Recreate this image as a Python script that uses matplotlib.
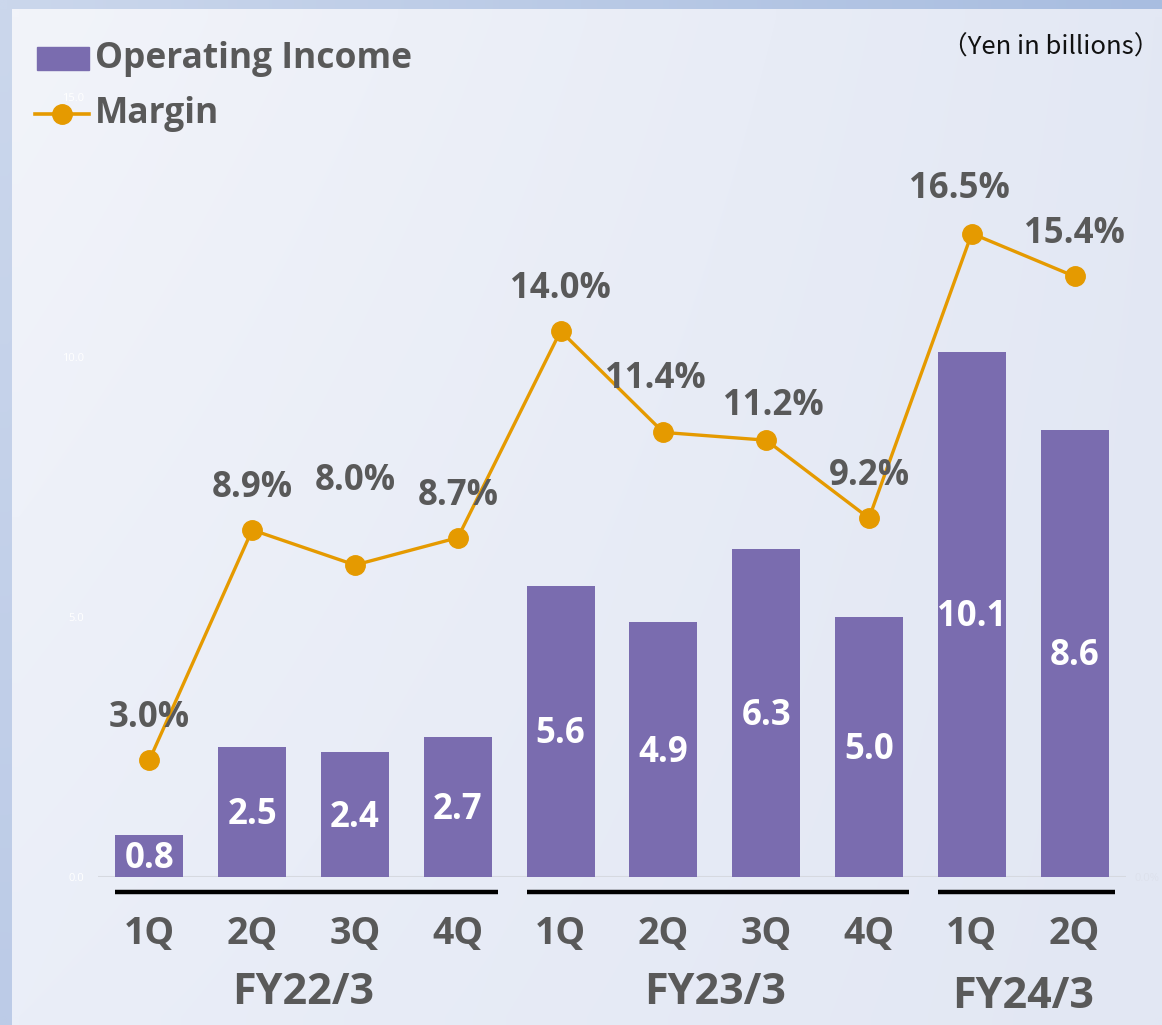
import numpy as np
import matplotlib
matplotlib.use("Agg")
import matplotlib.pyplot as plt
from matplotlib.patches import Rectangle
from matplotlib.lines import Line2D

# ---------------- data ----------------
quarters = ["1Q", "2Q", "3Q", "4Q", "1Q", "2Q", "3Q", "4Q", "1Q", "2Q"]
fiscal_years = ["FY22/3", "FY23/3", "FY24/3"]
fy_sizes = [4, 4, 2]
operating_income = [0.8, 2.5, 2.4, 2.7, 5.6, 4.9, 6.3, 5.0, 10.1, 8.6]
margin = [3.0, 8.9, 8.0, 8.7, 14.0, 11.4, 11.2, 9.2, 16.5, 15.4]
left_ticks = [0, 5, 10, 15]

# ---------------- style ----------------
W, H = 1162, 1025
DPI = 100
plt.rcParams['font.family'] = ['Open Sans', 'Noto Sans', 'DejaVu Sans']
BAR = '#7a6caf'
LINE = '#e59a00'
GREY = '#595959'

fig = plt.figure(figsize=(W / DPI, H / DPI), dpi=DPI)

# background gradient (frame + panel)
bg = fig.add_axes([0, 0, 1, 1])
bg.set_axis_off()
def corner_grad(tl, tr, bl, br, h, w):
    tl, tr, bl, br = [np.array(matplotlib.colors.to_rgb(c)) for c in (tl, tr, bl, br)]
    yy = np.linspace(0, 1, h)[:, None, None]
    xx = np.linspace(0, 1, w)[None, :, None]
    top = tl * (1 - xx) + tr * xx
    bot = bl * (1 - xx) + br * xx
    return top * (1 - yy) + bot * yy
frame = corner_grad('#cbd7ec', '#a8bde0', '#bccbe7', '#c0cfe9', 60, 80)
bg.imshow(frame, extent=[0, W, H, 0], aspect='auto', interpolation='bilinear')
panel = corner_grad('#f2f4fa', '#e3e8f4', '#eaeef8', '#e2e7f3', 60, 80)
bg.imshow(panel, extent=[12, W, H, 9], aspect='auto', interpolation='bilinear')
bg.set_xlim(0, W)
bg.set_ylim(H, 0)

# main axes
ax = fig.add_axes([98 / W, (H - 877) / H, 1028 / W, 780 / H])
ax.patch.set_alpha(0)
n = len(quarters)
x = np.arange(n)
bars = ax.bar(x, operating_income, width=0.66, color=BAR, zorder=2)
ax.set_xlim(-0.5, n - 0.5)
ax.set_ylim(0, 15)
for s in ax.spines.values():
    s.set_visible(False)
ax.axhline(0, color='#d6d9e0', lw=1.5, zorder=1)
ax.set_yticks(left_ticks)
ax.set_yticklabels([f"{t:.1f}" for t in left_ticks], color='white', fontsize=8)
ax.tick_params(axis='y', length=0, pad=10)
ax.set_xticks([])

# bar value labels
for xi, v in zip(x, operating_income):
    ax.annotate(f"{v:.1f}", (xi, v / 2), xytext=(0, -3), textcoords='offset pixels',
                ha='center', va='center', color='white', fontsize=25,
                fontweight='bold', zorder=4)

# margin line on secondary axis
ax2 = ax.twinx()
ax2.set_ylim(0, 20)
for s in ax2.spines.values():
    s.set_visible(False)
ax2.set_yticks([0])
ax2.set_yticklabels(["0.0%"], color='#dde1ec', fontsize=8)
ax2.tick_params(axis='y', length=0, pad=6)
ax2.plot(x, margin, color=LINE, lw=2.4, marker='o', markersize=14,
         zorder=5, clip_on=False)
label_offsets = {2: (0, 84), 5: (-8, 53), 6: (7, 34), 8: (-12, 44)}
for xi, m in zip(x, margin):
    dx, dy = label_offsets.get(int(xi), (0, 42))
    ax2.annotate(f"{m:.1f}%", (xi, m), xytext=(dx, dy), textcoords='offset pixels',
                 ha='center', va='center', color=GREY, fontsize=25,
                 fontweight='bold', zorder=6)

# category axis: quarter labels, group underlines, fiscal year labels
start = 0
for fy, size in zip(fiscal_years, fy_sizes):
    x0, x1 = start - 0.33, start + size - 1 + 0.39
    ax.plot([x0, x1], [-0.29, -0.29], color='black', lw=3.2, clip_on=False,
            solid_capstyle='butt')
    cx = start + (size - 1) / 2
    ax.annotate(fy, (cx, 0), xytext=(0, -116 if size > 2 else -120),
                textcoords='offset pixels', ha='center', va='center',
                color=GREY, fontsize=31, fontweight='bold', annotation_clip=False)
    start += size
for xi, q in zip(x, quarters):
    ax.annotate(q, (xi, 0), xytext=(0, -57), textcoords='offset pixels',
                ha='center', va='center', color=GREY, fontsize=27,
                fontweight='bold', annotation_clip=False)

# legend (manual)
fig.patches.append(Rectangle((37 / W, 1 - 70 / H), 52 / W, 23 / H,
                             transform=fig.transFigure, color=BAR))
fig.text(95 / W, 1 - 59 / H, "Operating Income", ha='left', va='center',
         color=GREY, fontsize=25.5, fontweight='bold')
fig.lines.append(Line2D([35 / W, 89 / W], [1 - 114 / H, 1 - 114 / H],
                        transform=fig.transFigure, color=LINE, lw=2.6))
fig.lines.append(Line2D([62 / W], [1 - 114 / H], transform=fig.transFigure,
                        color=LINE, marker='o', markersize=14))
fig.text(95 / W, 1 - 114 / H, "Margin", ha='left', va='center',
         color=GREY, fontsize=25.5, fontweight='bold')

fig.text(1160 / W, 1 - 48 / H, "（Yen in billions）", ha='right', va='center',
         color='#111111', fontsize=18.5,
         family=['Noto Sans CJK JP', 'DejaVu Sans'])

fig.savefig("out.png", dpi=DPI)
